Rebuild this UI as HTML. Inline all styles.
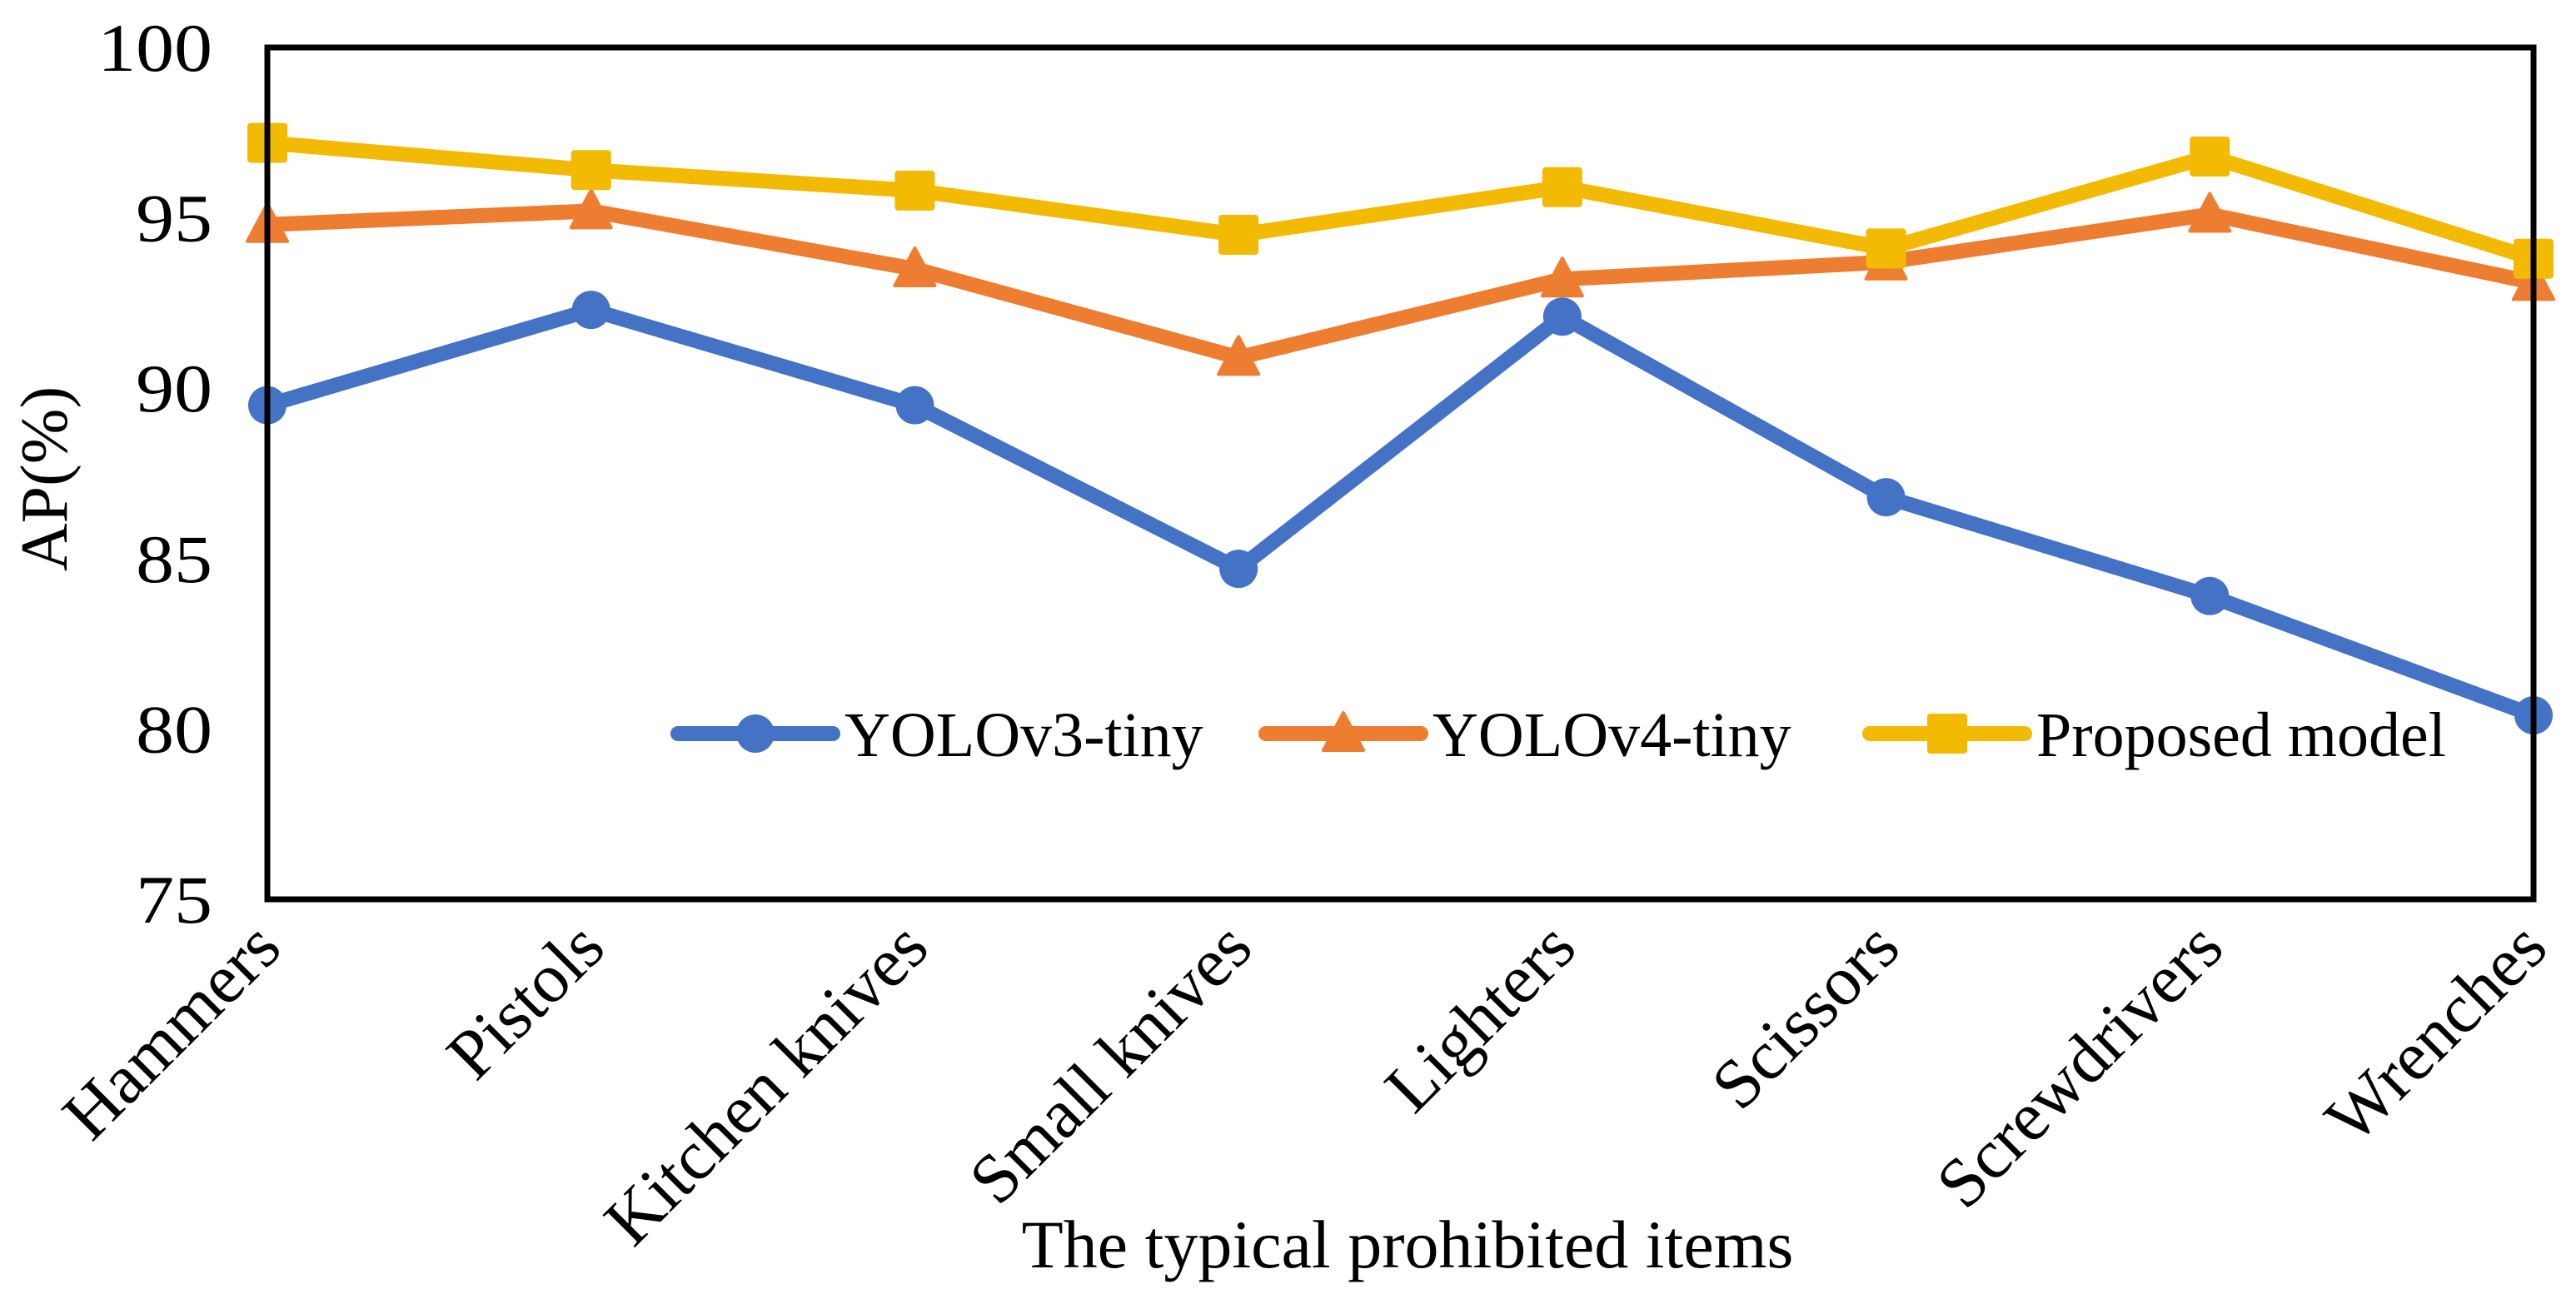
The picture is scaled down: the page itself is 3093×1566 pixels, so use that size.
<!DOCTYPE html>
<html><head><meta charset="utf-8"><style>
html,body{margin:0;padding:0;background:#fff;}
svg{display:block;}
text{font-family:"Liberation Serif",serif;fill:#000;}
</style></head><body>
<svg id="chart" width="3093" height="1566" viewBox="0 0 3093 1566" xmlns="http://www.w3.org/2000/svg">
<g id="yticks"></g>
<g id="xticks"></g>
<g id="series"></g>
<rect x="321" y="57" width="2721" height="1023" fill="none" stroke="#000" stroke-width="7"/>
<text transform="translate(80,575) rotate(-90)" text-anchor="middle" font-size="80">AP(%)</text>
<text x="1690" y="1522" text-anchor="middle" font-size="82">The typical prohibited items</text>
<g id="legend"></g>
</svg>
<script>
const categories = ["Hammers","Pistols","Kitchen knives","Small knives","Lighters","Scissors","Screwdrivers","Wrenches"];
const yolov3 = [89.5,92.3,89.5,84.7,92.1,86.8,83.9,80.4];
const yolov4 = [94.8,95.2,93.5,90.9,93.2,93.7,95.1,93.1];
const proposed = [97.2,96.4,95.8,94.5,95.9,94.1,96.8,93.8];
const yTicks = [75,80,85,90,95,100];
const seriesNames = ["YOLOv3-tiny","YOLOv4-tiny","Proposed model"];

const NS="http://www.w3.org/2000/svg";
const L=321,R=3042,T=57,B=1080,YMIN=75,YMAX=100;
function xs(i){return L+(R-L)*i/(categories.length-1);}
function ys(v){return B-(v-YMIN)/(YMAX-YMIN)*(B-T);}
function mk(tag,attrs,parent){const e=document.createElementNS(NS,tag);for(const k in attrs)e.setAttribute(k,attrs[k]);parent.appendChild(e);return e;}

const yg=document.getElementById('yticks');
yTicks.forEach(v=>{
  const t=mk('text',{transform:`translate(255,${ys(v)+28}) scale(1.12,1)`,'text-anchor':'end','font-size':82},yg);
  
  
  t.textContent=v;
});
const xg=document.getElementById('xticks');
categories.forEach((c,i)=>{
  const t=mk('text',{transform:`translate(${xs(i)+20},${ys(YMIN)+62}) rotate(-45)`,'text-anchor':'end','font-size':84},xg);
  
  
  t.textContent=c;
});

const colors=["#4472C4","#ED7D31","#F2BA02"];
const data=[yolov3,yolov4,proposed];
function marker(type,x,y,color,parent){
  let m;
  if(type===0) m=mk('ellipse',{cx:x,cy:y,rx:23,ry:23,fill:color},parent);
  else if(type===1) m=mk('polygon',{points:`${x},${y-25} ${x+24},${y+20} ${x-24},${y+20}`,fill:color,'stroke':color,'stroke-width':4,'stroke-linejoin':'round'},parent);
  else m=mk('rect',{x:x-24,y:y-24,width:48,height:48,rx:4,fill:color},parent);
  return m;
}
const sg=document.getElementById('series');
data.forEach((vals,s)=>{
  const g=mk('g',{},sg);
  
  
  const p=mk('polyline',{points:vals.map((v,i)=>xs(i)+','+ys(v)).join(' '),fill:'none',stroke:colors[s],'stroke-width':18,'stroke-linejoin':'round'},g);
  
  
  vals.forEach((v,i)=>{
    const m=marker(s,xs(i),ys(v),colors[s],g);
    
    
  });
});

const lg=document.getElementById('legend');
const legX=[814,1520,2245], legY=881;
seriesNames.forEach((n,s)=>{
  const g=mk('g',{},lg);
  
  
  mk('line',{x1:legX[s],y1:legY,x2:legX[s]+186,y2:legY,stroke:colors[s],'stroke-width':18,'stroke-linecap':'round'},g);
  marker(s,legX[s]+93,legY,colors[s],g);
  const t=mk('text',{x:legX[s]+200,y:legY+27,'font-size':76},g);
  
  
  t.textContent=n;
});
</script>
</body></html>
